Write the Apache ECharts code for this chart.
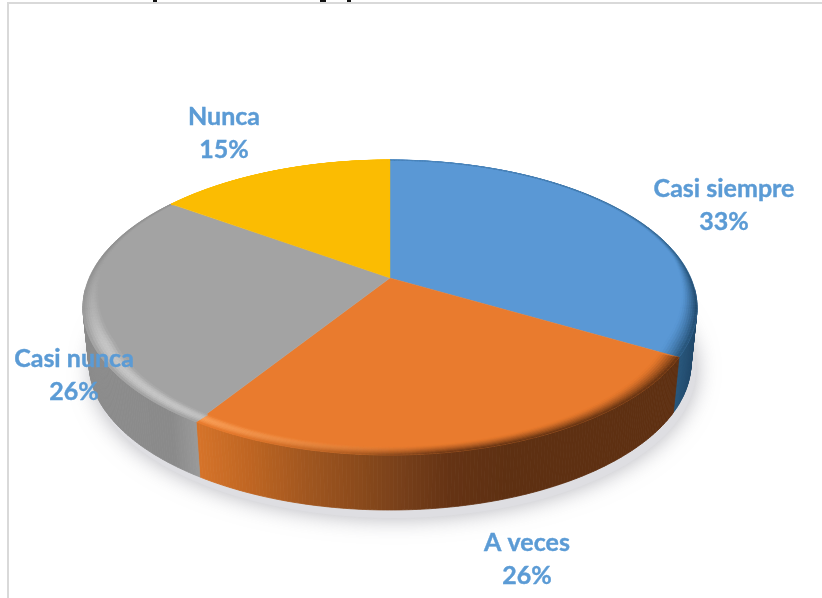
<!DOCTYPE html>
<html><head><meta charset="utf-8">
<style>html,body{margin:0;padding:0;background:#fff}#c{width:822px;height:598px}</style>
<script src="https://cdn.jsdelivr.net/npm/echarts@6/dist/echarts.min.js"></script>
</head><body><div id="c"></div>
<script>
const categories = ['Casi siempre', 'A veces', 'Casi nunca', 'Nunca'];
const values = [33.4, 25.6, 25.9, 15.1];
const topColors = ['#5A98D5', '#E97B2E', '#A3A3A3', '#FBBC02'];
const labelCentres = [[724, 205], [527, 559], [74, 375], [224, 133]];

// pie geometry on the page: a tilted disc seen in perspective
const TOP = {cx: 390, cy: 307.5, rx: 307, ry: 147.5};
const BASE = {cx: 390, cy: 363, rx: 301, ry: 147};
const TILT = 0.2;

const hex = c => [1, 3, 5].map(i => parseInt(c.slice(i, i + 2), 16));
const mix = (a, b, t) => { t = Math.max(0, Math.min(1, t));
  const A = hex(a), B = hex(b);
  return '#' + A.map((v, i) => Math.round(v + (B[i] - v) * t).toString(16).padStart(2, '0')).join(''); };
function ramp(stops, x) {
  if (x <= stops[0][0]) return stops[0][1];
  for (let i = 1; i < stops.length; i++) if (x <= stops[i][0])
    return mix(stops[i - 1][1], stops[i][1], (x - stops[i - 1][0]) / (stops[i][0] - stops[i - 1][0]));
  return stops[stops.length - 1][1];
}
const sideRamps = [
  [[660, '#2A587C'], [680, '#27557A'], [700, '#1F4566']],
  [[195, '#D6742A'], [250, '#BE6522'], [300, '#A35820'], [350, '#8E4C1C'], [400, '#78401A'], [450, '#653314'], [510, '#5E3012'], [700, '#5E3012']],
  [[80, '#8C8C8C'], [170, '#8A8A8A'], [200, '#9C9C9C']],
  [[0, '#8C8C8C'], [800, '#8C8C8C']]
];
// clockwise angle from the top of the disc -> normalised point on the screen ellipse
function proj(a) {
  const x = Math.sin(a), y = Math.cos(a), w = 1 + TILT * y;
  return [x * Math.sqrt(1 - TILT * TILT) / w, (y + TILT) / w];
}
const onE = (E, n, s = 1) => [E.cx + E.rx * n[0] * s, E.cy - E.ry * n[1] * s];
const apex = onE(TOP, [0, TILT]);
const total = values.reduce((a, b) => a + b, 0);
const STEP = Math.PI / 300;

function renderSlice(params, api) {
  const i = params.dataIndex;
  const before = values.slice(0, i).reduce((a, b) => a + b, 0);
  const a0 = before / total * 2 * Math.PI, a1 = (before + api.value(0)) / total * 2 * Math.PI;
  const n = Math.max(2, Math.ceil((a1 - a0) / STEP));
  const angles = Array.from({length: n + 1}, (_, k) => a0 + (a1 - a0) * k / n);
  const children = [];
  const side = sideRamps[i], top = topColors[i];
  // side wall
  for (let k = 0; k < n; k++) {
    const p = proj(angles[k]), q = proj(angles[k + 1]);
    if (p[1] > 0.12 && q[1] > 0.12) continue;
    const P = onE(TOP, p), Q = onE(TOP, q), R = onE(BASE, q), S = onE(BASE, p);
    const col = ramp(side, (P[0] + Q[0]) / 2);
    children.push({type: 'polygon', shape: {points: [P, Q, R, S]},
      style: {fill: col, stroke: col, lineWidth: 0.8}});
  }
  // flat face
  const pts = [apex].concat(angles.map(a => onE(TOP, proj(a))));
  children.push({type: 'polygon', shape: {points: pts}, style: {fill: top, stroke: top, lineWidth: 0.4}});
  // soft bevel round the rim
  const K = 8;
  for (let k = 0; k < n; k++) {
    const p = proj(angles[k]), q = proj(angles[k + 1]);
    const my = (p[1] + q[1]) / 2;
    const mx = (p[0] + q[0]) / 2;
    const front = Math.max(0, Math.min(1, (0.35 - my) / 0.6));
    const width = 0.003 + 0.055 * front + 0.018 * Math.pow(mx, 4);
    const sx = TOP.cx + TOP.rx * mx;
    const col = ramp(side, sx);
    const hi = Math.max(0, Math.min(1, (430 - sx) / 260)) * front;
    const hiCol = i === 2 ? '#C6C6C6' : i === 1 ? '#FBA45E' : top;
    for (let r = 0; r < K; r++) {
      const u0 = r / K, u1 = (r + 1) / K, u = (u0 + u1) / 2;
      const s0 = 1 - width * (1 - u0), s1 = 1 - width * (1 - u1);
      const bump = Math.sin(Math.PI * Math.min(1, u * 1.05));
      let c = mix(top, hiCol, hi * bump);
      c = mix(c, col, (1 - hi) * Math.pow(u, 1.4) * (i === 3 ? 0 : 1) * (0.35 + 0.65 * Math.max(front, mx * mx)));
      children.push({type: 'polygon',
        shape: {points: [onE(TOP, p, s0), onE(TOP, q, s0), onE(TOP, q, s1), onE(TOP, p, s1)]},
        style: {fill: c, stroke: c, lineWidth: 0.5}});
    }
  }
  return {type: 'group', children};
}
function renderShadow() {
  const pts = [];
  for (let d = 0; d < 360; d += 2) {
    const a = d * Math.PI / 180;
    pts.push([BASE.cx + 4 + (BASE.rx + 1) * Math.cos(a), BASE.cy + 7 + (BASE.ry + 1) * Math.sin(a)]);
  }
  return {type: 'polygon', shape: {points: pts},
    style: {fill: '#DEDEE2', shadowBlur: 22, shadowColor: 'rgba(130,130,140,0.6)'}};
}
function renderLabel(params, api) {
  const i = params.dataIndex;
  return {type: 'text', style: {
    x: labelCentres[i][0], y: labelCentres[i][1],
    text: categories[i] + '\n' + Math.round(api.value(0) / total * 100) + '%',
    fill: '#5B9BD5', stroke: '#5B9BD5', lineWidth: 0.4,
    font: 'bold 25px Lato, Carlito, sans-serif',
    align: 'center', verticalAlign: 'middle', lineHeight: 33}};
}
const data = values.map(v => [v]);
const chart = echarts.init(document.getElementById('c'), null, {renderer: 'canvas'});
chart.setOption({
  animation: false,
  backgroundColor: '#fff',
  graphic: [
    {type: 'rect', z: 0, shape: {x: 7, y: 2, width: 2, height: 596}, style: {fill: '#D9D9D9'}},
    {type: 'rect', z: 0, shape: {x: 7, y: 2, width: 815, height: 2}, style: {fill: '#D9D9D9'}},
    {type: 'rect', z: 1, shape: {x: 153, y: 0, width: 4, height: 2}, style: {fill: '#111'}},
    {type: 'rect', z: 1, shape: {x: 320, y: 0, width: 6, height: 2}, style: {fill: '#111'}},
    {type: 'rect', z: 1, shape: {x: 347, y: 0, width: 4, height: 2}, style: {fill: '#111'}}
  ],
  series: [
    {type: 'custom', coordinateSystem: 'none', z: 2, silent: true, data: [[total]], renderItem: renderShadow},
    {type: 'custom', coordinateSystem: 'none', z: 3, silent: true, data, renderItem: renderSlice},
    {type: 'custom', coordinateSystem: 'none', z: 4, silent: true, data, renderItem: renderLabel}
  ]
});
</script></body></html>
